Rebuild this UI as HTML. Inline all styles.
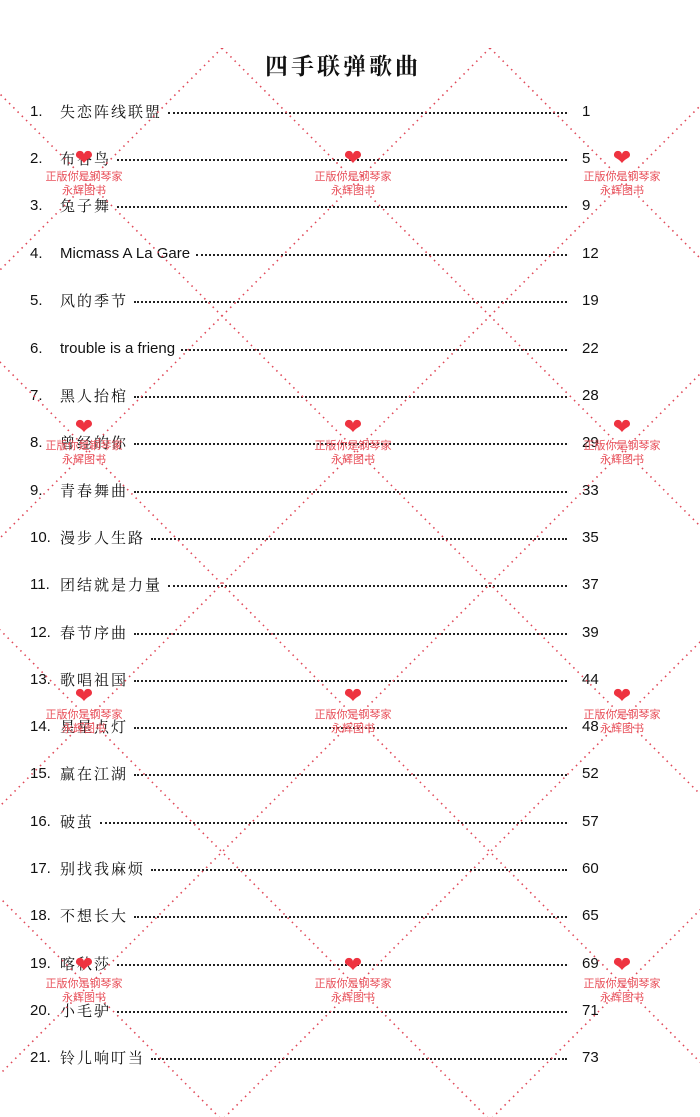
<!DOCTYPE html>
<html style="overflow:hidden"><head><meta charset="utf-8"><style>
html,body{width:700px;height:1117px}
body{margin:0;background:#fff;position:relative;overflow:hidden;font-family:"Liberation Sans","Noto Sans CJK SC",sans-serif;color:#111}
.t{position:absolute;left:0;top:48px;width:686px;text-align:center;font:bold 23px "Noto Serif CJK SC",serif;letter-spacing:3px}
.r{position:absolute;left:30px;width:580px;height:22px;font-size:15px;display:flex;align-items:center}
.n{width:30px}
.s{font-family:"Noto Serif CJK SC","Liberation Sans",serif;letter-spacing:2px;white-space:nowrap;padding-right:6px}
.d{flex:1;border-bottom:2px dotted #222;height:0;margin-top:4px;margin-right:15px}
.p{width:28px}
.w{position:absolute;width:120px;text-align:center;color:#e8505a;font-size:11px;line-height:14px}
.h{color:#ee3340;font-size:22px;line-height:20px;height:22px}
svg{position:absolute;left:0;top:0}
</style></head><body>
<div class="t">四手联弹歌曲</div>
<div class="r" style="top:100px"><span class="n">1.</span><span class="s">失恋阵线联盟</span><span class="d"></span><span class="p">1</span></div>
<div class="r" style="top:147px"><span class="n">2.</span><span class="s">布谷鸟</span><span class="d"></span><span class="p">5</span></div>
<div class="r" style="top:194px"><span class="n">3.</span><span class="s">兔子舞</span><span class="d"></span><span class="p">9</span></div>
<div class="r" style="top:242px"><span class="n">4.</span><span class="s" style="font-family:'Liberation Sans',sans-serif;letter-spacing:0">Micmass A La Gare</span><span class="d"></span><span class="p">12</span></div>
<div class="r" style="top:289px"><span class="n">5.</span><span class="s">风的季节</span><span class="d"></span><span class="p">19</span></div>
<div class="r" style="top:337px"><span class="n">6.</span><span class="s" style="font-family:'Liberation Sans',sans-serif;letter-spacing:0">trouble is a frieng</span><span class="d"></span><span class="p">22</span></div>
<div class="r" style="top:384px"><span class="n">7.</span><span class="s">黑人抬棺</span><span class="d"></span><span class="p">28</span></div>
<div class="r" style="top:431px"><span class="n">8.</span><span class="s">曾经的你</span><span class="d"></span><span class="p">29</span></div>
<div class="r" style="top:479px"><span class="n">9.</span><span class="s">青春舞曲</span><span class="d"></span><span class="p">33</span></div>
<div class="r" style="top:526px"><span class="n">10.</span><span class="s">漫步人生路</span><span class="d"></span><span class="p">35</span></div>
<div class="r" style="top:573px"><span class="n">11.</span><span class="s">团结就是力量</span><span class="d"></span><span class="p">37</span></div>
<div class="r" style="top:621px"><span class="n">12.</span><span class="s">春节序曲</span><span class="d"></span><span class="p">39</span></div>
<div class="r" style="top:668px"><span class="n">13.</span><span class="s">歌唱祖国</span><span class="d"></span><span class="p">44</span></div>
<div class="r" style="top:715px"><span class="n">14.</span><span class="s">星星点灯</span><span class="d"></span><span class="p">48</span></div>
<div class="r" style="top:762px"><span class="n">15.</span><span class="s">赢在江湖</span><span class="d"></span><span class="p">52</span></div>
<div class="r" style="top:810px"><span class="n">16.</span><span class="s">破茧</span><span class="d"></span><span class="p">57</span></div>
<div class="r" style="top:857px"><span class="n">17.</span><span class="s">别找我麻烦</span><span class="d"></span><span class="p">60</span></div>
<div class="r" style="top:904px"><span class="n">18.</span><span class="s">不想长大</span><span class="d"></span><span class="p">65</span></div>
<div class="r" style="top:952px"><span class="n">19.</span><span class="s">喀秋莎</span><span class="d"></span><span class="p">69</span></div>
<div class="r" style="top:999px"><span class="n">20.</span><span class="s">小毛驴</span><span class="d"></span><span class="p">71</span></div>
<div class="r" style="top:1046px"><span class="n">21.</span><span class="s">铃儿响叮当</span><span class="d"></span><span class="p">73</span></div>
<svg width="700" height="1117" viewBox="0 0 700 1117">
<defs><clipPath id="c"><rect x="0" y="48" width="700" height="1069"/></clipPath></defs>
<g clip-path="url(#c)" stroke="#e04858" stroke-width="1.6" stroke-dasharray="1.5 4.5" fill="none">
<line x1="1002" y1="-1000" x2="-1998" y2="2000"/>
<line x1="1270" y1="-1000" x2="-1730" y2="2000"/>
<line x1="1538" y1="-1000" x2="-1462" y2="2000"/>
<line x1="1806" y1="-1000" x2="-1194" y2="2000"/>
<line x1="2074" y1="-1000" x2="-926" y2="2000"/>
<line x1="2342" y1="-1000" x2="-658" y2="2000"/>
<line x1="2610" y1="-1000" x2="-390" y2="2000"/>
<line x1="-1898" y1="-1000" x2="1102" y2="2000"/>
<line x1="-1630" y1="-1000" x2="1370" y2="2000"/>
<line x1="-1362" y1="-1000" x2="1638" y2="2000"/>
<line x1="-1094" y1="-1000" x2="1906" y2="2000"/>
<line x1="-826" y1="-1000" x2="2174" y2="2000"/>
<line x1="-558" y1="-1000" x2="2442" y2="2000"/>
</g></svg>
<div class="w" style="left:24px;top:148px"><div class="h">❤</div>正版你是钢琴家<br>永辉图书</div>
<div class="w" style="left:293px;top:148px"><div class="h">❤</div>正版你是钢琴家<br>永辉图书</div>
<div class="w" style="left:562px;top:148px"><div class="h">❤</div>正版你是钢琴家<br>永辉图书</div>
<div class="w" style="left:24px;top:417px"><div class="h">❤</div>正版你是钢琴家<br>永辉图书</div>
<div class="w" style="left:293px;top:417px"><div class="h">❤</div>正版你是钢琴家<br>永辉图书</div>
<div class="w" style="left:562px;top:417px"><div class="h">❤</div>正版你是钢琴家<br>永辉图书</div>
<div class="w" style="left:24px;top:686px"><div class="h">❤</div>正版你是钢琴家<br>永辉图书</div>
<div class="w" style="left:293px;top:686px"><div class="h">❤</div>正版你是钢琴家<br>永辉图书</div>
<div class="w" style="left:562px;top:686px"><div class="h">❤</div>正版你是钢琴家<br>永辉图书</div>
<div class="w" style="left:24px;top:955px"><div class="h">❤</div>正版你是钢琴家<br>永辉图书</div>
<div class="w" style="left:293px;top:955px"><div class="h">❤</div>正版你是钢琴家<br>永辉图书</div>
<div class="w" style="left:562px;top:955px"><div class="h">❤</div>正版你是钢琴家<br>永辉图书</div>
</body></html>
